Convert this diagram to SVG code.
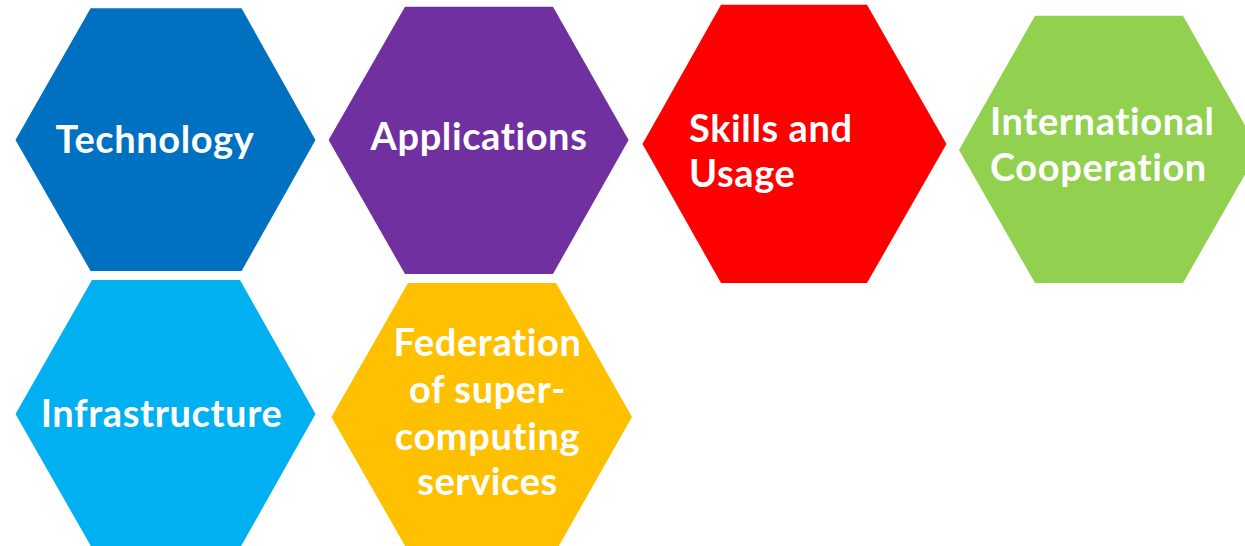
<svg xmlns="http://www.w3.org/2000/svg" width="1245" height="546" viewBox="0 0 1245 546">
<style>
.lbl{font-family:Lato,"Liberation Sans",sans-serif;font-weight:bold;font-size:38px;letter-spacing:0.6px;fill:#ffffff;font-variant-ligatures:none}
.c{text-anchor:middle}
</style>
<rect width="1245" height="546" fill="#ffffff"/>
<g id="technology">
<polygon points="15.5,140 90.6,8.3 241.6,8.3 315.5,140 241.6,271 90.6,271" fill="#0070C0"/>
<text class="lbl c" x="155" y="152.5">Technology</text>
</g>
<g id="applications">
<polygon points="328.6,140 405,6.7 553,6.7 628.6,140 553,274 405,274" fill="#7030A0"/>
<text class="lbl c" x="479" y="150">Applications</text>
</g>
<g id="skills">
<polygon points="642.5,144 721,4.7 867,4.7 946.5,144 867,283 721,283" fill="#FF0000"/>
<text class="lbl" x="689" y="141.7">Skills and</text>
<text class="lbl" x="689" y="186.7">Usage</text>
</g>
<g id="international">
<polygon points="959,150 1035,15.7 1183,15.7 1259,150 1183,283 1035,283" fill="#92D050"/>
<text class="lbl" x="990" y="135">International</text>
<text class="lbl" x="990" y="181">Cooperation</text>
</g>
<g id="infrastructure">
<polygon points="15.5,414 92,280 240,280 315.5,414 240,548 92,548" fill="#00B0F0"/>
<text class="lbl c" x="161.5" y="426.7">Infrastructure</text>
</g>
<g id="federation">
<polygon points="331.4,417 408,283 556,283 632,417 556,551 408,551" fill="#FFC000"/>
<text class="lbl c" x="487.5" y="356">Federation</text>
<text class="lbl c" x="487.5" y="403">of super-</text>
<text class="lbl c" x="487.5" y="450">computing</text>
<text class="lbl c" x="487.5" y="495">services</text>
</g>
<g id="connectors"></g>
</svg>
